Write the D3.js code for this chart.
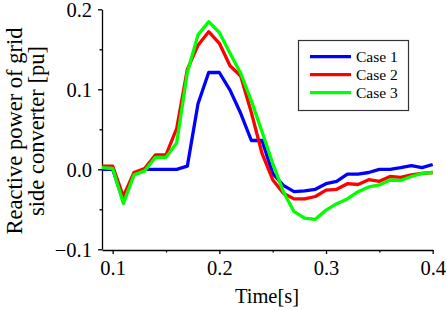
<!DOCTYPE html>
<html>
<head>
<meta charset="utf-8">
<script src="https://cdn.jsdelivr.net/npm/d3@7"></script>
<style>
  body { margin: 0; background: #fff; }
  svg { display: block; }
</style>
</head>
<body>
<svg id="chart" width="447" height="310"></svg>
<script>
// ---- data ----
const time = [0.09, 0.10, 0.11, 0.12, 0.13, 0.14, 0.15, 0.16, 0.17, 0.18, 0.19, 0.20,
              0.21, 0.22, 0.23, 0.24, 0.25, 0.26, 0.27, 0.28, 0.29, 0.30, 0.31, 0.32,
              0.33, 0.34, 0.35, 0.36, 0.37, 0.38, 0.39, 0.40];
const case1 = [0.000, 0.000, -0.040, -0.006, 0.000, 0.000, 0.000, 0.000, 0.004, 0.082, 0.121, 0.121,
               0.099, 0.070, 0.036, 0.036, -0.005, -0.020, -0.028, -0.027, -0.025, -0.018, -0.015, -0.006,
               -0.006, -0.004, 0.000, 0.000, 0.002, 0.0045, 0.002, 0.006];
const case2 = [0.004, 0.004, -0.034, -0.004, 0.001, 0.018, 0.018, 0.051, 0.125, 0.155, 0.172, 0.1575,
               0.1295, 0.1166, 0.071, 0.020, -0.013, -0.030, -0.037, -0.037, -0.034, -0.026, -0.025, -0.018,
               -0.019, -0.013, -0.015, -0.009, -0.010, -0.007, -0.005, -0.004];
const case3 = [0.002, 0.001, -0.0425, -0.007, -0.002, 0.015, 0.015, 0.033, 0.121, 0.168, 0.1845, 0.171,
               0.145, 0.120, 0.0855, 0.047, 0.0075, -0.028, -0.053, -0.061, -0.0625, -0.051, -0.043, -0.037,
               -0.028, -0.022, -0.0196, -0.0134, -0.014, -0.009, -0.005, -0.004];
const seriesNames = ["Case 1", "Case 2", "Case 3"];
const seriesColors = ["#0000ff", "#ff0000", "#00ff00"];
const xMajor = [0.1, 0.2, 0.3, 0.4];
const xMinor = [0.15, 0.25, 0.35];
const yMajor = [-0.1, 0.0, 0.1, 0.2];
const yMinor = [-0.05, 0.05, 0.15];

const FONT = "'Liberation Serif', 'DejaVu Serif', serif";
const svg = d3.select("#chart");

/* ---------- Scales ---------- */
const x = d3.scaleLinear().domain([0.09, 0.40]).range([102, 432.7]);
const y = d3.scaleLinear().domain([-0.1, 0.2]).range([249.3, 9.3]);
const baseY = 250;

/* ---------- Axes ---------- */
const gx = svg.append("g").attr("transform", `translate(0,${baseY})`);
gx.call(d3.axisBottom(x).tickValues(xMajor).tickFormat(d3.format(".1f")).tickSize(4).tickSizeOuter(0));
gx.append("g").call(d3.axisBottom(x).tickValues(xMinor).tickFormat("").tickSize(2.5).tickSizeOuter(0))
    .select(".domain").remove();

const gy = svg.append("g").attr("transform", "translate(102,0)");
gy.call(d3.axisLeft(y).tickValues(yMajor).tickFormat(d3.format(".1f")).tickSize(4).tickSizeOuter(0));
gy.append("g").call(d3.axisLeft(y).tickValues(yMinor).tickFormat("").tickSize(2.5).tickSizeOuter(0))
    .select(".domain").remove();

svg.selectAll("g").attr("font-family", null);
svg.selectAll(".domain, .tick line").attr("stroke", "#000").attr("stroke-width", 1.3);
svg.selectAll(".tick text").attr("font-size", 20.5);
gx.selectAll(".tick text").attr("y", 10).attr("dy", "0.71em");
gy.selectAll(".tick text").attr("x", -10).attr("dy", "0.34em");

// axis titles
svg.append("text").attr("x", 267).attr("y", 303).attr("text-anchor", "middle")
    .attr("font-size", 20.5).text("Time[s]");
const yTitle = svg.append("text").attr("transform", "translate(0,131) rotate(-90)")
    .attr("text-anchor", "middle").attr("font-size", 22.5);
yTitle.append("tspan").attr("x", 0).attr("y", 22).text("Reactive power of grid");
yTitle.append("tspan").attr("x", 0).attr("y", 44).text("side converter [pu]");

/* ---------- Lines ---------- */
const line = d3.line().x((d, i) => x(time[i])).y(d => y(d));
[case1, case2, case3].forEach((vals, k) => {
    svg.append("path")
        .attr("d", line(vals))
        .attr("fill", "none")
        .attr("stroke", seriesColors[k])
        .attr("stroke-width", 3.3)
        .attr("stroke-linejoin", "round");
});

/* ---------- Legend ---------- */
const lg = svg.append("g").attr("transform", "translate(298,40)");
lg.append("rect").attr("x", 0.5).attr("y", 0.5).attr("width", 110).attr("height", 70)
    .attr("fill", "#fff").attr("stroke", "#333").attr("stroke-width", 1.2);
seriesNames.forEach((name, k) => {
    const yy = 16.7 + k * 18;
    lg.append("line").attr("x1", 12).attr("x2", 53).attr("y1", yy).attr("y2", yy)
        .attr("stroke", seriesColors[k]).attr("stroke-width", 3.3);
    lg.append("text").attr("x", 58).attr("y", yy).attr("dy", "0.34em")
        .attr("font-size", 15.5).text(name);
});

svg.selectAll("text").style("font-family", FONT).style("fill", "#000");
</script>
</body>
</html>
